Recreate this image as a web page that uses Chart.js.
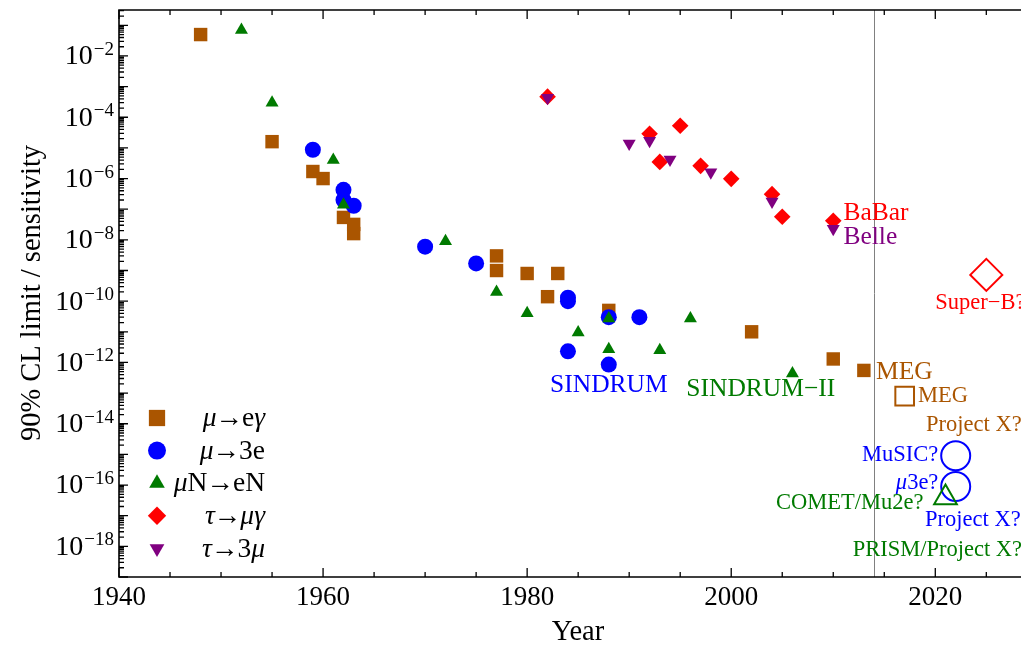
<!DOCTYPE html>
<html>
<head>
<meta charset="utf-8">
<script src="https://cdn.jsdelivr.net/npm/chart.js@4/dist/chart.umd.min.js"></script>
<style>
html, body { margin: 0; padding: 0; background: #fff; overflow: hidden; }
#wrap { width: 1021px; height: 648px; }
</style>
</head>
<body>
<div id="wrap"><canvas id="lfvChart" width="1021" height="648"></canvas></div>
<script>
const muEGammaYears = [1948, 1955, 1959, 1960, 1962, 1963, 1963, 1977, 1977, 1980, 1982, 1983, 1988, 2002, 2010, 2013];
const muEGammaLimits = [5e-2, 1.6e-5, 1.7e-6, 1e-6, 5.4e-8, 3.2e-8, 1.6e-8, 3e-9, 1e-9, 8e-10, 1.4e-10, 8e-10, 5e-11, 1e-11, 1.3e-12, 5.5e-13];

const mu3eYears = [1959, 1962, 1962, 1963, 1970, 1975, 1984, 1984, 1988, 1991, 1984, 1988];
const mu3eLimits = [8.7e-6, 4.3e-7, 2e-7, 1.3e-7, 6e-9, 1.7e-9, 1.3e-10, 1e-10, 3e-11, 3e-11, 2.3e-12, 8.5e-13];

const muNeNYears = [1952, 1955, 1961, 1962, 1972, 1977, 1980, 1985, 1988, 1988, 1993, 1996, 2006];
const muNeNLimits = [7e-2, 3e-4, 4e-6, 1.4e-7, 9e-9, 2e-10, 4e-11, 9.5e-12, 2.7e-11, 2.7e-12, 2.5e-12, 2.7e-11, 4.4e-13];

const tauMuGammaYears = [1982, 1992, 1995, 1993, 1997, 2000, 2004, 2005, 2010];
const tauMuGammaLimits = [4.7e-4, 2.9e-5, 5.3e-5, 3.5e-6, 2.6e-6, 9.8e-7, 3.1e-7, 5.7e-8, 4.2e-8];

const tau3MuYears = [1982, 1990, 1992, 1994, 1998, 2004, 2010];
const tau3MuLimits = [4.3e-4, 1.4e-5, 1.7e-5, 4.2e-6, 1.6e-6, 1.8e-7, 2.3e-8];

// projected sensitivities (open markers)
const muEGammaFutureYears = [2017];
const muEGammaFutureLimits = [8e-14];
const mu3eFutureYears = [2022, 2022];
const mu3eFutureLimits = [9e-16, 9e-17];
const muNeNFutureYears = [2021];
const muNeNFutureLimits = [3.9e-17];
const tauMuGammaFutureYears = [2025];
const tauMuGammaFutureLimits = [7.2e-10];

const xTickYears = [1940, 1960, 1980, 2000, 2020];
const yLabelExponents = [-2, -4, -6, -8, -10, -12, -14, -16, -18];
const nowYear = 2014;

// experiment names: [year, value, text runs, colour key, align, big]
const expLabels = [
    [2011.0, 10 ** -7.12, [["BaBar", false]], "red", "left", true],
    [2011.0, 10 ** -7.90, [["Belle", false]], "purple", "left", true],
    [2020.0, 10 ** -10.05, [["Super\u2212B?", false]], "red", "left", false],
    [2014.2, 10 ** -12.33, [["MEG", false]], "brown", "left", true],
    [2018.3, 10 ** -13.11, [["MEG", false]], "brown", "left", false],
    [2019.1, 10 ** -14.03, [["Project X?", false]], "brown", "left", false],
    [2020.3, 10 ** -15.01, [["MuSIC?", false]], "blue", "right", false],
    [2020.3, 10 ** -15.93, [["\u03bc", true], ["3e?", false]], "blue", "right", false],
    [2018.85, 10 ** -16.58, [["COMET/Mu2e?", false]], "green", "right", false],
    [2019.0, 10 ** -17.13, [["Project X?", false]], "blue", "left", false],
    [2011.9, 10 ** -18.11, [["PRISM/Project X?", false]], "green", "left", false],
    [1982.25, 10 ** -12.73, [["SINDRUM", false]], "blue", "left", true],
    [1995.6, 10 ** -12.89, [["SINDRUM\u2212II", false]], "green", "left", true]
];

const colors = {
    brown: "#aa5500",
    blue: "#0000ff",
    green: "#007a00",
    red: "#ff0000",
    purple: "#800080"
};

const SERIF = '"Liberation Serif", "DejaVu Serif", serif';

function toPoints(years, limits) {
    return years.map((yr, i) => ({ x: yr, y: limits[i] }));
}

function filledSet(label, years, limits, color, style, radius, order, rotation) {
    return {
        label: label,
        data: toPoints(years, limits),
        showLine: false,
        pointStyle: style,
        pointRadius: radius,
        pointHoverRadius: radius,
        pointRotation: rotation || 0,
        pointBackgroundColor: color,
        pointBorderColor: color,
        pointBorderWidth: 0,
        order: order
    };
}

function openSet(label, years, limits, color, style, radius, order) {
    return {
        label: label,
        data: toPoints(years, limits),
        showLine: false,
        pointStyle: style,
        pointRadius: radius,
        pointHoverRadius: radius,
        pointBackgroundColor: "rgba(0,0,0,0)",
        pointBorderColor: color,
        pointBorderWidth: 2,
        order: order
    };
}

// legend rows: [text runs, colour, style, radius, rotation]
// runs: [text, italic, extra space after]
const legendRows = [
    [[["\u03bc", true, -1], ["\u2192", false, -1], ["e", false, 0], ["\u03b3", true, 0]], colors.brown, "rect", 11.5, 0],
    [[["\u03bc", true, -1], ["\u2192", false, -1], ["3e", false, 0]], colors.blue, "circle", 9, 0],
    [[["\u03bc", true, 0], ["N", false, -1], ["\u2192", false, -1], ["eN", false, 0]], colors.green, "triangle", 9, 0],
    [[["\u03c4", true, -1], ["\u2192", false, -1], ["\u03bc\u03b3", true, 0]], colors.red, "rectRot", 9.2, 0],
    [[["\u03c4", true, -1], ["\u2192", false, -1], ["3", false, 0], ["\u03bc", true, 0]], colors.purple, "triangle", 8.5, 180]
];

function drawRuns(ctx, runs, xAnchor, yMid, size, align) {
    let total = 0;
    runs.forEach(r => {
        ctx.font = (r[1] ? "italic " : "") + size + "px " + SERIF;
        total += ctx.measureText(r[0]).width + (r[2] || 0);
    });
    let x = align === "left" ? xAnchor : xAnchor - total;
    ctx.textAlign = "left";
    runs.forEach(r => {
        ctx.font = (r[1] ? "italic " : "") + size + "px " + SERIF;
        ctx.fillText(r[0], x, yMid);
        x += ctx.measureText(r[0]).width + (r[2] || 0);
    });
}

const frameAndText = {
    id: "frameAndText",
    beforeDatasetsDraw(chart) {
        const { ctx, chartArea: a, scales: { x } } = chart;
        const px = x.getPixelForValue(nowYear);
        ctx.save();
        ctx.strokeStyle = "#808080";
        ctx.lineWidth = 1;
        ctx.beginPath();
        ctx.moveTo(Math.round(px) + 0.5, a.top);
        ctx.lineTo(Math.round(px) + 0.5, a.bottom);
        ctx.stroke();
        ctx.restore();
    },
    afterDraw(chart) {
        const { ctx, chartArea: a, scales: { x, y } } = chart;
        ctx.save();
        ctx.strokeStyle = "#000";
        ctx.lineWidth = 1.6;

        // frame (right side is outside the picture)
        ctx.beginPath();
        ctx.moveTo(a.right + 2, a.top);
        ctx.lineTo(a.left, a.top);
        ctx.lineTo(a.left, a.bottom);
        ctx.lineTo(a.right + 2, a.bottom);
        ctx.stroke();

        // x ticks, bottom and top, pointing inward
        ctx.lineWidth = 1.3;
        ctx.beginPath();
        for (let yr = 1940; yr <= 2030; yr += 5) {
            const px = x.getPixelForValue(yr);
            if (px > a.right + 1) continue;
            const len = yr % 20 === 0 ? 9 : 5;
            ctx.moveTo(px, a.bottom);
            ctx.lineTo(px, a.bottom - len);
            ctx.moveTo(px, a.top);
            ctx.lineTo(px, a.top + len);
        }
        // y ticks on left side
        for (let d = -19; d <= -1; d++) {
            for (let k = 1; k <= 9; k++) {
                const v = k * Math.pow(10, d);
                if (v > y.max * 1.0001 || v < y.min * 0.9999) continue;
                const py = y.getPixelForValue(v);
                const len = k === 1 ? 9 : 5;
                ctx.moveTo(a.left, py);
                ctx.lineTo(a.left + len, py);
            }
        }
        ctx.stroke();

        // x tick labels
        ctx.fillStyle = "#000";
        ctx.font = "27px " + SERIF;
        ctx.textAlign = "center";
        ctx.textBaseline = "middle";
        xTickYears.forEach(yr => {
            ctx.fillText(String(yr), x.getPixelForValue(yr), 598);
        });

        // y tick labels 10^n
        yLabelExponents.forEach(n => {
            const py = y.getPixelForValue(Math.pow(10, n));
            ctx.textAlign = "right";
            ctx.textBaseline = "middle";
            ctx.font = "19px " + SERIF;
            const sup = "\u2212" + Math.abs(n);
            const supW = ctx.measureText(sup).width;
            ctx.fillText(sup, 114, py - 6);
            ctx.font = "28px " + SERIF;
            ctx.fillText("10", 114 - supW - 1, py + 1);
        });

        // axis titles
        ctx.textAlign = "center";
        ctx.textBaseline = "middle";
        ctx.font = "28.5px " + SERIF;
        ctx.fillText("Year", 578, 633);
        ctx.save();
        ctx.translate(33, 293);
        ctx.rotate(-Math.PI / 2);
        ctx.fillText("90% CL limit / sensitivity", 0, 0);
        ctx.restore();

        // experiment labels
        ctx.textBaseline = "middle";
        expLabels.forEach(l => {
            ctx.fillStyle = colors[l[3]];
            drawRuns(ctx, l[2], x.getPixelForValue(l[0]), y.getPixelForValue(l[1]), l[5] ? 25.5 : 22.5, l[4]);
        });

        // legend
        ctx.textBaseline = "middle";
        legendRows.forEach((row, i) => {
            const ly = 418 + i * 32.6;
            ctx.fillStyle = row[1];
            ctx.strokeStyle = row[1];
            ctx.beginPath();
            Chart.helpers.drawPoint(ctx, {
                pointStyle: row[2],
                radius: row[3],
                rotation: row[4],
                borderWidth: 0
            }, 157, ly);
            ctx.fillStyle = "#000";
            drawRuns(ctx, row[0], 265, ly + 1, 27.5, "right");
        });
        ctx.restore();
    }
};

new Chart(document.getElementById("lfvChart"), {
    type: "scatter",
    data: {
        datasets: [
            filledSet("\u03bc\u2192e\u03b3", muEGammaYears, muEGammaLimits, colors.brown, "rect", 9.5, 5),
            filledSet("\u03bc\u21923e", mu3eYears, mu3eLimits, colors.blue, "circle", 8, 4),
            filledSet("\u03bcN\u2192eN", muNeNYears, muNeNLimits, colors.green, "triangle", 7.5, 3),
            filledSet("\u03c4\u2192\u03bc\u03b3", tauMuGammaYears, tauMuGammaLimits, colors.red, "rectRot", 8.3, 2),
            filledSet("\u03c4\u21923\u03bc", tau3MuYears, tau3MuLimits, colors.purple, "triangle", 7.5, 1, 180),
            openSet("MEG upgrade", muEGammaFutureYears, muEGammaFutureLimits, colors.brown, "rect", 13.2, 5),
            openSet("\u03bc3e future", mu3eFutureYears, mu3eFutureLimits, colors.blue, "circle", 14.5, 4),
            openSet("\u03bcN\u2192eN future", muNeNFutureYears, muNeNFutureLimits, colors.green, "triangle", 13.1, 3),
            openSet("Super-B", tauMuGammaFutureYears, tauMuGammaFutureLimits, colors.red, "rectRot", 16, 2)
        ]
    },
    options: {
        responsive: false,
        devicePixelRatio: 1,
        animation: false,
        layout: {
            autoPadding: false,
            padding: { left: 119, top: 10, right: 0, bottom: 71 }
        },
        plugins: {
            legend: { display: false },
            tooltip: { enabled: false }
        },
        scales: {
            x: {
                type: "linear",
                display: false,
                min: 1940,
                max: 2028.4
            },
            y: {
                type: "logarithmic",
                display: false,
                min: 1e-19,
                max: Math.pow(10, -0.5)
            }
        }
    },
    plugins: [frameAndText]
});
</script>
</body>
</html>
